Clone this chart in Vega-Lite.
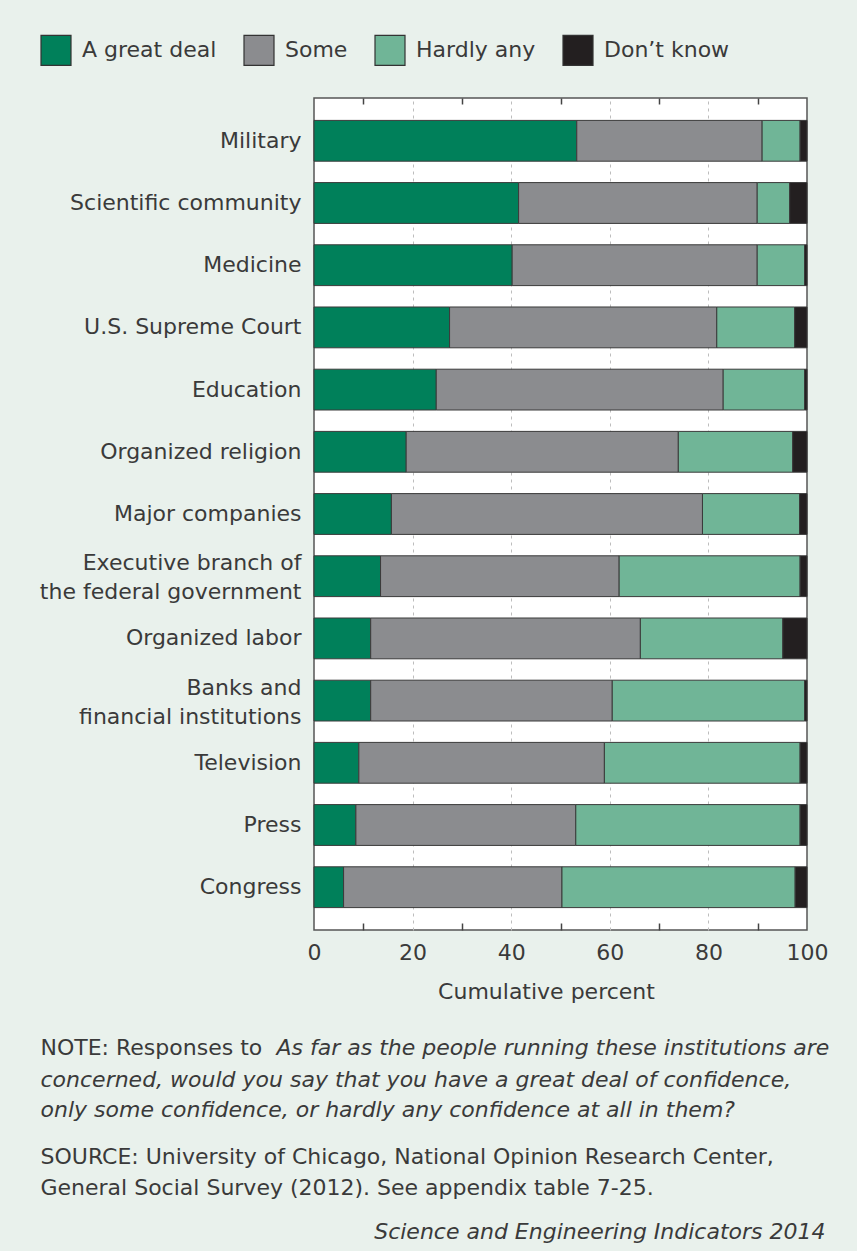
{
  "$schema": "https://vega.github.io/schema/vega-lite/v6.json",
  "width": 493,
  "height": 832,
  "autosize": {"type": "none"},
  "padding": {"left": 314, "top": 98, "right": 50, "bottom": 321},
  "background": "#e9f1ec",
  "config": {
    "font": "DejaVu Sans",
    "view": {"stroke": "#555555", "strokeWidth": 1.5, "fill": "#ffffff"},
    "axis": {
      "labelFont": "DejaVu Sans",
      "titleFont": "DejaVu Sans",
      "labelColor": "#3a3a3a",
      "titleColor": "#3a3a3a",
      "titleFontWeight": "normal",
      "labelFontSize": 22,
      "titleFontSize": 22,
      "titleLimit": 900
    }
  },
  "data": {
    "values": [
      {"institution": "Military", "response": "A great deal", "pct": 53.3},
      {"institution": "Military", "response": "Some", "pct": 37.6},
      {"institution": "Military", "response": "Hardly any", "pct": 7.7},
      {"institution": "Military", "response": "Don’t know", "pct": 1.4},
      {"institution": "Scientific community", "response": "A great deal", "pct": 41.5},
      {"institution": "Scientific community", "response": "Some", "pct": 48.4},
      {"institution": "Scientific community", "response": "Hardly any", "pct": 6.6},
      {"institution": "Scientific community", "response": "Don’t know", "pct": 3.5},
      {"institution": "Medicine", "response": "A great deal", "pct": 40.2},
      {"institution": "Medicine", "response": "Some", "pct": 49.7},
      {"institution": "Medicine", "response": "Hardly any", "pct": 9.6},
      {"institution": "Medicine", "response": "Don’t know", "pct": 0.5},
      {"institution": "U.S. Supreme Court", "response": "A great deal", "pct": 27.5},
      {"institution": "U.S. Supreme Court", "response": "Some", "pct": 54.2},
      {"institution": "U.S. Supreme Court", "response": "Hardly any", "pct": 15.8},
      {"institution": "U.S. Supreme Court", "response": "Don’t know", "pct": 2.5},
      {"institution": "Education", "response": "A great deal", "pct": 24.8},
      {"institution": "Education", "response": "Some", "pct": 58.2},
      {"institution": "Education", "response": "Hardly any", "pct": 16.5},
      {"institution": "Education", "response": "Don’t know", "pct": 0.5},
      {"institution": "Organized religion", "response": "A great deal", "pct": 18.7},
      {"institution": "Organized religion", "response": "Some", "pct": 55.2},
      {"institution": "Organized religion", "response": "Hardly any", "pct": 23.2},
      {"institution": "Organized religion", "response": "Don’t know", "pct": 2.9},
      {"institution": "Major companies", "response": "A great deal", "pct": 15.7},
      {"institution": "Major companies", "response": "Some", "pct": 63.1},
      {"institution": "Major companies", "response": "Hardly any", "pct": 19.7},
      {"institution": "Major companies", "response": "Don’t know", "pct": 1.5},
      {"institution": "Executive branch of the federal government", "response": "A great deal", "pct": 13.5},
      {"institution": "Executive branch of the federal government", "response": "Some", "pct": 48.4},
      {"institution": "Executive branch of the federal government", "response": "Hardly any", "pct": 36.7},
      {"institution": "Executive branch of the federal government", "response": "Don’t know", "pct": 1.4},
      {"institution": "Organized labor", "response": "A great deal", "pct": 11.5},
      {"institution": "Organized labor", "response": "Some", "pct": 54.7},
      {"institution": "Organized labor", "response": "Hardly any", "pct": 28.9},
      {"institution": "Organized labor", "response": "Don’t know", "pct": 4.9},
      {"institution": "Banks and financial institutions", "response": "A great deal", "pct": 11.5},
      {"institution": "Banks and financial institutions", "response": "Some", "pct": 49.0},
      {"institution": "Banks and financial institutions", "response": "Hardly any", "pct": 39.0},
      {"institution": "Banks and financial institutions", "response": "Don’t know", "pct": 0.5},
      {"institution": "Television", "response": "A great deal", "pct": 9.1},
      {"institution": "Television", "response": "Some", "pct": 49.8},
      {"institution": "Television", "response": "Hardly any", "pct": 39.7},
      {"institution": "Television", "response": "Don’t know", "pct": 1.4},
      {"institution": "Press", "response": "A great deal", "pct": 8.5},
      {"institution": "Press", "response": "Some", "pct": 44.6},
      {"institution": "Press", "response": "Hardly any", "pct": 45.5},
      {"institution": "Press", "response": "Don’t know", "pct": 1.4},
      {"institution": "Congress", "response": "A great deal", "pct": 6.0},
      {"institution": "Congress", "response": "Some", "pct": 44.3},
      {"institution": "Congress", "response": "Hardly any", "pct": 47.3},
      {"institution": "Congress", "response": "Don’t know", "pct": 2.4}
    ]
  },
  "transform": [
    {"calculate": "indexof(['A great deal','Some','Hardly any','Don’t know'], datum.response)", "as": "ord"}
  ],
  "encoding": {
    "y": {
      "field": "institution",
      "type": "nominal",
      "sort": null,
      "title": null,
      "scale": {"paddingInner": 0.344, "paddingOuter": 0.36},
      "axis": {
        "ticks": false,
        "domain": false,
        "grid": false,
        "labelPadding": 13,
        "labelFontSize": 22,
        "labelLimit": 400,
        "labelLineHeight": 29,
        "labelOffset": {"condition": {"test": "datum.value == 'Executive branch of the federal government' || datum.value == 'Banks and financial institutions'", "value": -13}, "value": 0},
        "labelExpr": "datum.value == 'Executive branch of the federal government' ? ['Executive branch of', 'the federal government'] : datum.value == 'Banks and financial institutions' ? ['Banks and', 'financial institutions'] : datum.label"
      }
    }
  },
  "layer": [
    {
      "mark": {"type": "bar", "stroke": "#3a3a3a", "strokeWidth": 1},
      "encoding": {
        "x": {
          "field": "pct",
          "type": "quantitative",
          "stack": "zero",
          "scale": {"domain": [0, 100], "nice": false},
          "axis": {
            "orient": "bottom",
            "values": [0, 20, 40, 60, 80, 100],
            "ticks": false,
            "domain": false,
            "labelPadding": 12,
            "labelFlush": false,
            "grid": true,
            "gridColor": "#bdbdbd",
            "gridDash": [3, 4],
            "gridWidth": 1,
            "gridOpacity": {"condition": {"test": "datum.value == 0 || datum.value == 100", "value": 0}, "value": 1},
            "title": "Cumulative percent",
            "titleX": 232,
            "titleY": 68,
            "titleAlign": "center",
            "titleBaseline": "alphabetic"
          }
        },
        "color": {
          "field": "response",
          "type": "nominal",
          "scale": {
            "domain": ["A great deal", "Some", "Hardly any", "Don’t know"],
            "range": ["#00805a", "#8b8c8f", "#70b597", "#231f20"]
          },
          "legend": {
            "orient": "none",
            "legendX": -274,
            "legendY": -64,
            "direction": "horizontal",
            "title": null,
            "symbolType": "square",
            "symbolSize": 900,
            "symbolStrokeColor": "#333333",
            "symbolStrokeWidth": 1.2,
            "symbolOpacity": 1,
            "labelFont": "DejaVu Sans",
            "labelFontSize": 22,
            "labelColor": "#3a3a3a",
            "labelOffset": 10,
            "columnPadding": 24,
            "padding": 0
          }
        },
        "order": {"field": "ord", "type": "quantitative"}
      }
    },
    {
      "mark": {"type": "point", "opacity": 0},
      "encoding": {
        "x": {
          "field": "pct",
          "type": "quantitative",
          "scale": {"domain": [0, 100], "nice": false},
          "axis": {
            "orient": "top",
            "offset": -6,
            "values": [10, 30, 50, 70, 90],
            "labels": false,
            "domain": false,
            "grid": false,
            "ticks": true,
            "tickSize": 6,
            "tickColor": "#444444",
            "tickWidth": 1.5,
            "title": null
          }
        }
      }
    },
    {
      "mark": {"type": "point", "opacity": 0},
      "encoding": {
        "x": {
          "field": "pct",
          "type": "quantitative",
          "scale": {"domain": [0, 100], "nice": false},
          "axis": {
            "orient": "bottom",
            "offset": -7,
            "values": [10, 30, 50, 70, 90],
            "labels": false,
            "domain": false,
            "grid": false,
            "ticks": true,
            "tickSize": 7,
            "tickColor": "#444444",
            "tickWidth": 1.5,
            "title": "NOTE: Responses to",
            "titleX": -274,
            "titleY": 131,
            "titleAlign": "left",
            "titleBaseline": "alphabetic",
            "titleFontStyle": "normal"
          }
        }
      }
    },
    {
      "mark": {"type": "point", "opacity": 0},
      "encoding": {
        "x": {
          "field": "pct",
          "type": "quantitative",
          "scale": {"domain": [0, 100], "nice": false},
          "axis": {
            "orient": "bottom",
            "values": [50],
            "labels": false,
            "domain": false,
            "grid": false,
            "ticks": false,
            "title": "As far as the people running these institutions are",
            "titleX": -38,
            "titleY": 124,
            "titleAlign": "left",
            "titleBaseline": "alphabetic",
            "titleFontStyle": "italic"
          }
        }
      }
    },
    {
      "mark": {"type": "point", "opacity": 0},
      "encoding": {
        "x": {
          "field": "pct",
          "type": "quantitative",
          "scale": {"domain": [0, 100], "nice": false},
          "axis": {
            "orient": "bottom",
            "values": [50],
            "labels": false,
            "domain": false,
            "grid": false,
            "ticks": false,
            "title": ["concerned, would you say that you have a great deal of confidence,", "only some confidence, or hardly any confidence at all in them?"],
            "titleX": -274,
            "titleY": 156,
            "titleAlign": "left",
            "titleBaseline": "alphabetic",
            "titleLineHeight": 30.5,
            "titleFontStyle": "italic"
          }
        }
      }
    },
    {
      "mark": {"type": "point", "opacity": 0},
      "encoding": {
        "x": {
          "field": "pct",
          "type": "quantitative",
          "scale": {"domain": [0, 100], "nice": false},
          "axis": {
            "orient": "bottom",
            "values": [50],
            "labels": false,
            "domain": false,
            "grid": false,
            "ticks": false,
            "title": ["SOURCE: University of Chicago, National Opinion Research Center,", "General Social Survey (2012). See appendix table 7-25."],
            "titleX": -274,
            "titleY": 233,
            "titleAlign": "left",
            "titleBaseline": "alphabetic",
            "titleLineHeight": 31.7,
            "titleFontStyle": "normal"
          }
        }
      }
    },
    {
      "mark": {"type": "point", "opacity": 0},
      "encoding": {
        "x": {
          "field": "pct",
          "type": "quantitative",
          "scale": {"domain": [0, 100], "nice": false},
          "axis": {
            "orient": "bottom",
            "values": [50],
            "labels": false,
            "domain": false,
            "grid": false,
            "ticks": false,
            "title": "Science and Engineering Indicators 2014",
            "titleX": 511,
            "titleY": 308,
            "titleAlign": "right",
            "titleBaseline": "alphabetic",
            "titleFontStyle": "italic"
          }
        }
      }
    }
  ],
  "resolve": {"axis": {"x": "independent"}}
}
